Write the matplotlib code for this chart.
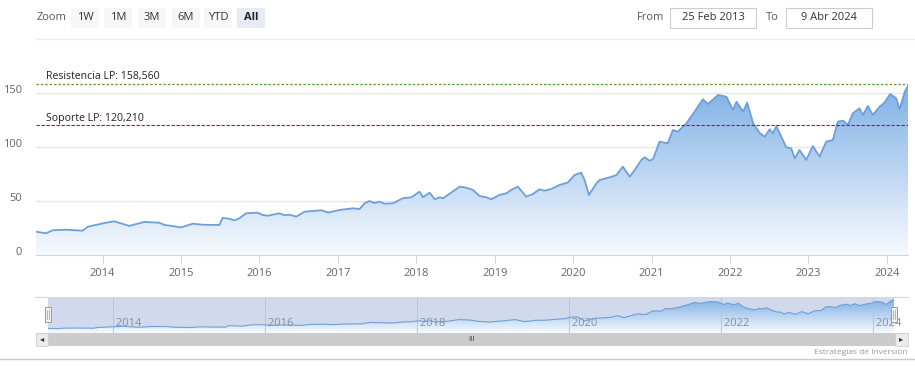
import numpy as np
import pandas as pd
import matplotlib
matplotlib.use("Agg")
import matplotlib.pyplot as plt
import matplotlib.dates as mdates
from matplotlib.colors import LinearSegmentedColormap
from matplotlib.patches import Rectangle
from matplotlib.transforms import ScaledTranslation

plt.rcParams['font.family'] = ['Open Sans', 'DejaVu Sans']

# Data
dates = ["2013-02-25", "2013-04-12", "2013-05-14", "2013-07-15", "2013-10-01", "2013-10-24",
         "2014-01-18", "2014-02-25", "2014-05-05", "2014-07-14", "2014-09-22", "2014-10-16",
         "2015-01-02", "2015-02-25", "2015-04-13", "2015-06-29", "2015-07-14", "2015-08-14",
         "2015-09-06", "2015-09-30", "2015-10-31", "2015-12-24", "2016-01-17", "2016-02-10",
         "2016-04-04", "2016-04-27", "2016-05-21", "2016-06-21", "2016-07-30", "2016-10-16",
         "2016-11-16", "2017-01-09", "2017-03-12", "2017-04-12", "2017-05-05", "2017-05-28",
         "2017-06-20", "2017-07-14", "2017-08-06", "2017-09-14", "2017-10-30", "2017-12-09",
         "2018-01-16", "2018-02-01", "2018-03-04", "2018-03-28", "2018-04-20", "2018-05-06",
         "2018-06-14", "2018-07-22", "2018-08-22", "2018-09-22", "2018-10-23", "2018-11-23",
         "2018-12-16", "2019-01-24", "2019-02-24", "2019-03-19", "2019-04-19", "2019-05-28",
         "2019-06-28", "2019-07-29", "2019-08-21", "2019-09-21", "2019-10-30", "2019-12-07",
         "2020-01-08", "2020-02-08", "2020-02-24", "2020-03-15", "2020-04-19", "2020-05-04",
         "2020-06-20", "2020-07-21", "2020-08-20", "2020-09-21", "2020-10-14", "2020-11-14",
         "2020-11-30", "2020-12-22", "2021-01-07", "2021-02-07", "2021-03-17", "2021-04-10",
         "2021-05-03", "2021-06-12", "2021-07-20", "2021-08-28", "2021-09-20", "2021-11-06",
         "2021-12-15", "2022-01-15", "2022-01-31", "2022-03-03", "2022-03-22", "2022-04-19",
         "2022-05-20", "2022-06-12", "2022-07-05", "2022-07-20", "2022-08-05", "2022-08-28",
         "2022-09-20", "2022-10-13", "2022-10-29", "2022-11-21", "2022-12-22", "2023-01-22",
         "2023-02-22", "2023-03-25", "2023-04-25", "2023-05-18", "2023-06-11", "2023-07-04",
         "2023-07-27", "2023-08-27", "2023-09-12", "2023-10-05", "2023-10-28", "2023-11-29",
         "2023-12-21", "2024-01-17", "2024-02-14", "2024-03-01", "2024-03-25", "2024-04-09"]
prices = [21.6, 20.1, 22.9, 23.4, 22.5, 26.2,
          29.9, 31.2, 26.9, 30.6, 29.9, 27.8,
          25.6, 29.0, 28.0, 27.8, 34.3, 33.6,
          32.1, 33.9, 38.6, 39.2, 37.0, 36.4,
          38.6, 36.8, 37.3, 35.5, 40.1, 41.4,
          39.3, 41.7, 43.2, 42.6, 47.8, 50.0,
          48.1, 49.4, 47.5, 47.8, 52.5, 53.4,
          58.6, 53.4, 57.7, 51.6, 53.4, 52.5,
          58.0, 63.3, 62.3, 60.2, 54.6, 53.4,
          51.6, 55.6, 57.1, 60.2, 63.3, 54.0,
          56.5, 60.8, 59.5, 61.1, 64.8, 67.0,
          74.0, 76.2, 69.4, 55.6, 66.4, 69.4,
          71.9, 74.0, 81.8, 72.5, 78.7, 88.0,
          90.4, 87.3, 88.6, 104.9, 103.4, 115.7,
          114.2, 121.9, 132.7, 144.2, 139.8, 148.1,
          146.6, 134.3, 141.9, 132.7, 141.0, 121.9,
          112.7, 109.5, 116.4, 112.7, 119.4, 109.5,
          99.7, 98.8, 89.5, 97.2, 88.0, 100.9,
          91.0, 104.9, 106.5, 123.4, 124.4, 120.4,
          131.2, 135.8, 129.6, 138.0, 129.6, 137.3,
          141.0, 149.1, 145.1, 134.9, 151.2, 156.5]
resistencia = 158.560
soporte = 120.210
range_buttons = ["1W", "1M", "3M", "6M", "YTD", "All"]
nav_years = [2014, 2016, 2018, 2020, 2022, 2024]

x = mdates.date2num(pd.to_datetime(dates))
y = np.array(prices)

W, H = 915, 376
fig = plt.figure(figsize=(W / 100, H / 100), dpi=100)

line_col = '#6f9fd8'
fill_cmap = LinearSegmentedColormap.from_list('fill', ['#f7fafe', '#7fb0e6'])


def gradient_area(ax, top):
    poly = ax.fill_between(x, y, 0, color='none', linewidth=0)
    grad = np.linspace(1, 0, 256).reshape(-1, 1)
    im = ax.imshow(grad, cmap=fill_cmap, aspect='auto', extent=[x[0], x[-1], 0, top],
                   origin='upper', zorder=1)
    im.set_clip_path(poly.get_paths()[0], transform=ax.transData)


# Main chart
ax = fig.add_axes([36 / W, 1 - 255 / H, (908 - 36) / W, (255 - 60) / H])
gradient_area(ax, 157)
ax.plot(x, y, color=line_col, linewidth=1.3, zorder=3)
ax.set_xlim(x[0], x[-1])
ax.set_ylim(0, 180.5)
ax.set_yticks([0, 50, 100, 150])
ax.grid(axis='y', color='#e6e6e6', linewidth=1)
ax.set_axisbelow(True)
for s in ['top', 'right', 'left']:
    ax.spines[s].set_visible(False)
ax.spines['bottom'].set_color('#ccd6eb')
ax.xaxis.set_major_locator(mdates.YearLocator())
ax.xaxis.set_major_formatter(mdates.DateFormatter('%Y'))
ax.tick_params(axis='x', colors='#ccd6eb', labelcolor='#666666', length=6, labelsize=8, pad=3)
ax.tick_params(axis='y', length=0, labelcolor='#666666', labelsize=8, pad=10)
off = ScaledTranslation(0, 0.04, fig.dpi_scale_trans)
for lbl in ax.get_yticklabels():
    lbl.set_transform(lbl.get_transform() + off)

ax.axhline(resistencia, color='#5b9a3c', linestyle=(0, (2, 1.5)), linewidth=0.9, zorder=4)
ax.axhline(soporte, color='#a01830', linestyle=(0, (3, 1.5)), linewidth=0.8, zorder=4)
ax.text(0.011, resistencia + 1.5, 'Resistencia LP: 158,560', transform=ax.get_yaxis_transform(),
        fontsize=7.6, color='#222222', va='bottom', zorder=5)
ax.text(0.011, soporte + 1.5, 'Soporte LP: 120,210', transform=ax.get_yaxis_transform(),
        fontsize=7.6, color='#222222', va='bottom', zorder=5)

# Navigator
nav = fig.add_axes([48 / W, 1 - 333 / H, (894 - 48) / W, (333 - 297) / H])
nav.axvspan(x[0], x[-1], color=(102 / 255, 133 / 255, 194 / 255), alpha=0.3, zorder=0, linewidth=0)
gradient_area(nav, 157)
nav.plot(x, y, color=line_col, linewidth=0.8, zorder=3)
nav.set_xlim(x[0], x[-1])
nav.set_ylim(0, 170)
nav.set_xticks([])
nav.set_yticks([])
for s in nav.spines.values():
    s.set_visible(False)
for yr in nav_years:
    d = mdates.date2num(pd.Timestamp(f"{yr}-01-01"))
    nav.axvline(d, color='#b8c1d6', linewidth=0.6, zorder=2)
    nav.text(d, 0.12, f" {yr}", transform=nav.get_xaxis_transform(), fontsize=8,
             color='#8a8f99', va='bottom', ha='left', clip_on=False, zorder=4)

# UI layer (pixel coordinates)
ui = fig.add_axes([0, 0, 1, 1], zorder=5)
ui.set_xlim(0, W)
ui.set_ylim(H, 0)
ui.axis('off')

ui.text(37, 18, 'Zoom', fontsize=8, color='#555555', va='center')
bx = [71, 104, 138, 172, 204, 237]
for lab, b in zip(range_buttons, bx):
    active = lab == 'All'
    ui.add_patch(Rectangle((b, 8), 28, 20, facecolor='#e6ebf5' if active else '#f7f7f7',
                           edgecolor='none'))
    ui.text(b + 14, 18, lab, fontsize=8, color='#222222' if active else '#333333',
            ha='center', va='center', fontweight='bold' if active else 'normal')

ui.text(637, 18, 'From', fontsize=8, color='#555555', va='center')
ui.add_patch(Rectangle((670, 8), 86, 20, facecolor='white', edgecolor='#cccccc', linewidth=0.8))
ui.text(713, 18, '25 Feb 2013', fontsize=8, color='#333333', ha='center', va='center')
ui.text(766, 18, 'To', fontsize=8, color='#555555', va='center')
ui.add_patch(Rectangle((786, 8), 86, 20, facecolor='white', edgecolor='#cccccc', linewidth=0.8))
ui.text(829, 18, '9 Abr 2024', fontsize=8, color='#333333', ha='center', va='center')
ui.plot([35, 915], [38.5, 38.5], color='#eeeeee', linewidth=1)

# navigator outline and handles
ui.plot([35, 908], [297, 297], color='#d5d9e0', linewidth=0.8)
for hx in [48, 894]:
    ui.add_patch(Rectangle((hx - 3, 307), 6, 15, facecolor='#f2f2f2', edgecolor='#999999',
                           linewidth=0.7))
    ui.plot([hx - 1, hx - 1], [310, 319], color='#999999', linewidth=0.5)
    ui.plot([hx + 1, hx + 1], [310, 319], color='#999999', linewidth=0.5)

# scrollbar
ui.add_patch(Rectangle((36, 333), 872, 13, facecolor='#cccccc', edgecolor='none'))
ui.add_patch(Rectangle((36, 333), 12, 13, facecolor='#ebebeb', edgecolor='#cccccc', linewidth=0.5))
ui.add_patch(Rectangle((895, 333), 13, 13, facecolor='#ebebeb', edgecolor='#cccccc', linewidth=0.5))
ui.text(42, 339.5, '◂', fontsize=6, color='#333333', ha='center', va='center')
ui.text(901.5, 339.5, '▸', fontsize=6, color='#333333', ha='center', va='center')
ui.text(471, 339.5, 'III', fontsize=5.5, color='#333333', ha='center', va='center')

ui.text(907, 352, 'Estrategias de Inversión', fontsize=6, color='#999999', ha='right', va='center')
ui.plot([0, 915], [358.5, 358.5], color='#c8cad8', linewidth=1)

fig.savefig('out.png', dpi=100)
